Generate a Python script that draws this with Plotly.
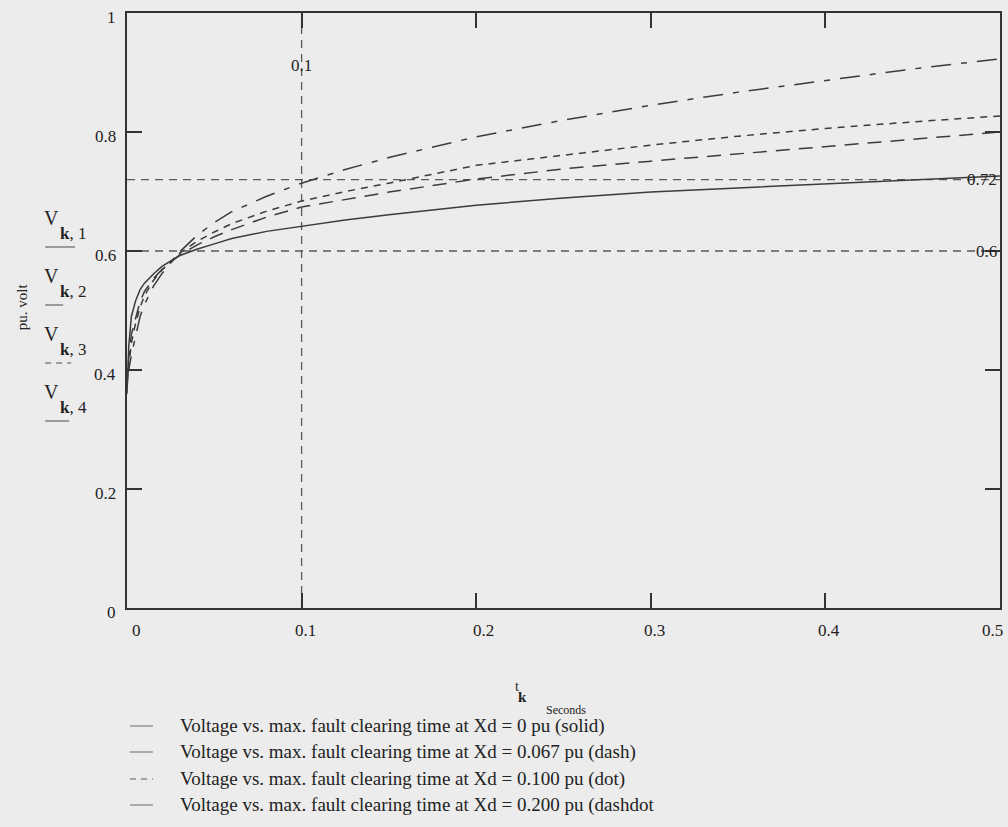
import plotly.graph_objects as go

# ---- data ----
t_sec = [0, 0.001, 0.0025, 0.005, 0.0075, 0.01, 0.015, 0.02, 0.03, 0.04, 0.05, 0.06,
         0.08, 0.1, 0.125, 0.15, 0.2, 0.25, 0.3, 0.35, 0.4, 0.45, 0.5]
v_xd_0 = [0.36, 0.44, 0.49, 0.517, 0.535, 0.546, 0.561, 0.574, 0.592, 0.603, 0.612, 0.621,
          0.633, 0.642, 0.652, 0.661, 0.677, 0.689, 0.699, 0.706, 0.713, 0.72, 0.726]
v_xd_0067 = [0.37, 0.42, 0.46, 0.49, 0.515, 0.532, 0.553, 0.569, 0.593, 0.61, 0.624, 0.636,
             0.657, 0.674, 0.687, 0.699, 0.721, 0.738, 0.751, 0.763, 0.776, 0.788, 0.80]
v_xd_0100 = [0.38, 0.41, 0.445, 0.48, 0.505, 0.525, 0.55, 0.568, 0.596, 0.616, 0.632, 0.646,
             0.667, 0.684, 0.700, 0.714, 0.744, 0.761, 0.778, 0.793, 0.806, 0.817, 0.827]
v_xd_0200 = [0.39, 0.40, 0.425, 0.46, 0.49, 0.51, 0.54, 0.562, 0.598, 0.626, 0.648, 0.666,
             0.692, 0.714, 0.737, 0.757, 0.792, 0.82, 0.845, 0.867, 0.887, 0.906, 0.923]

x_ticks = [0, 0.1, 0.2, 0.3, 0.4, 0.5]
x_tick_text = ["0", "0.1", "0.2", "0.3", "0.4", "0.5"]
y_ticks = [0, 0.2, 0.4, 0.6, 0.8, 1]
y_tick_text = ["0", "0.2", "0.4", "0.6", "0.8", "1"]

ref_v = [0.72, 0.6]
ref_t = 0.1

legend_texts = [
    "Voltage vs. max. fault clearing time at Xd = 0 pu (solid)",
    "Voltage vs. max. fault clearing time at Xd = 0.067 pu (dash)",
    "Voltage vs. max. fault clearing time at Xd = 0.100 pu (dot)",
    "Voltage vs. max. fault clearing time at Xd = 0.200 pu (dashdot",
]
side_labels = ["1", "2", "3", "4"]

# ---- layout geometry ----
W, H = 1008, 827
L, R, T, B = 127, 6, 13, 219
PW, PH = W - L - R, H - T - B


def px(x, y):
    return (x - L) / PW, (H - B - y) / PH


FONT = "Liberation Serif"
TXT = "#222"
CURVE = "#3c3c3c"
REF = "#5a5a5a"
BG = "#ececec"

fig = go.Figure()
series = [v_xd_0, v_xd_0067, v_xd_0100, v_xd_0200]
dashes = ["solid", "14px,9px", "7px,6px", "20px,10px,6px,10px"]
for s, d, lbl in zip(series, dashes, legend_texts):
    fig.add_trace(go.Scatter(x=t_sec, y=s, mode="lines", name=lbl,
                             line=dict(color=CURVE, width=1.5, dash=d),
                             showlegend=False))

shapes = []
for v in ref_v:
    shapes.append(dict(type="line", xref="x", yref="y", x0=0, x1=0.5, y0=v, y1=v,
                       line=dict(color=REF, width=1.3, dash="8px,6px"), layer="below"))
shapes.append(dict(type="line", xref="x", yref="y", x0=ref_t, x1=ref_t, y0=0, y1=1,
                   line=dict(color=REF, width=1.3, dash="8px,6px"), layer="below"))

annotations = []


def ann(x, y, text, size, xref="paper", yref="paper", xanchor="center", **kw):
    annotations.append(dict(x=x, y=y, xref=xref, yref=yref, text=text, showarrow=False,
                            xanchor=xanchor, yanchor="middle",
                            font=dict(family=FONT, size=size, color=TXT), **kw))


# tick labels (as text, offsets like the original)
x_shift = [9, 4, 7, 4, 4, -8]
for v, txt, sh in zip(x_ticks, x_tick_text, x_shift):
    ann(v, px(0, 630)[1], txt, 17, xref="x", xshift=sh)
for v, txt in zip(y_ticks, y_tick_text):
    ann(px(118, 0)[0], v, txt, 17, yref="y", xanchor="right", yshift=-4)

# reference labels
ann(ref_t, 0.912, "0.1", 17, xref="x", yref="y")
for v in ref_v:
    ann(1.0, v, f"{v:g}", 17, yref="y", xanchor="right", xshift=-1)

# y axis title
ax, ay = px(22, 307)
ann(ax, ay, "pu. volt", 15, textangle=-90)

# V_k,n labels with sample lines
v_rows = [218, 276, 334, 392]
sample_dash = ["solid", "solid", "6px,5px", "solid"]
sample_len = [30, 18, 26, 24]
for i, n in enumerate(side_labels):
    y0 = v_rows[i]
    xa, ya = px(51, y0)
    ann(xa, ya, "V", 20)
    xa, ya = px(58, y0 + 15)
    ann(xa, ya, f"<b>k</b>, {n}", 17, xanchor="left")
    x0, yy = px(45, y0 + 29)
    x1, _ = px(45 + sample_len[i], y0 + 29)
    shapes.append(dict(type="line", xref="paper", yref="paper", x0=x0, x1=x1, y0=yy, y1=yy,
                       line=dict(color="#808080", width=1.5, dash=sample_dash[i])))

# x axis title
xa, ya = px(518, 686)
ann(xa, ya, "t", 14)
xa, ya = px(523, 697)
ann(xa, ya, "<b>k</b>", 15)
xa, ya = px(567, 710)
ann(xa, ya, "Seconds", 12)

# bottom legend
leg_rows = [726, 752, 779, 805]
leg_dash = ["solid", "solid", "6px,5px", "solid"]
for i, txt in enumerate(legend_texts):
    xa, ya = px(178, leg_rows[i])
    ann(xa, ya, txt, 19, xanchor="left")
    x0, yy = px(130, leg_rows[i])
    x1, _ = px(153, leg_rows[i])
    shapes.append(dict(type="line", xref="paper", yref="paper", x0=x0, x1=x1, y0=yy, y1=yy,
                       line=dict(color="#888888", width=1.3, dash=leg_dash[i])))

axis_common = dict(showgrid=False, zeroline=False, showline=True, linewidth=2, linecolor="#333",
                   mirror="ticks", ticks="inside", ticklen=15, tickwidth=2, tickcolor="#333",
                   showticklabels=False)

fig.update_layout(
    width=W, height=H,
    margin=dict(l=L, r=R, t=T, b=B, pad=0),
    paper_bgcolor=BG, plot_bgcolor=BG,
    xaxis=dict(range=[0, 0.5], tickvals=x_ticks, **axis_common),
    yaxis=dict(range=[0, 1], tickvals=y_ticks, **axis_common),
    shapes=shapes, annotations=annotations,
    showlegend=False,
)

fig.write_html("out.html")
